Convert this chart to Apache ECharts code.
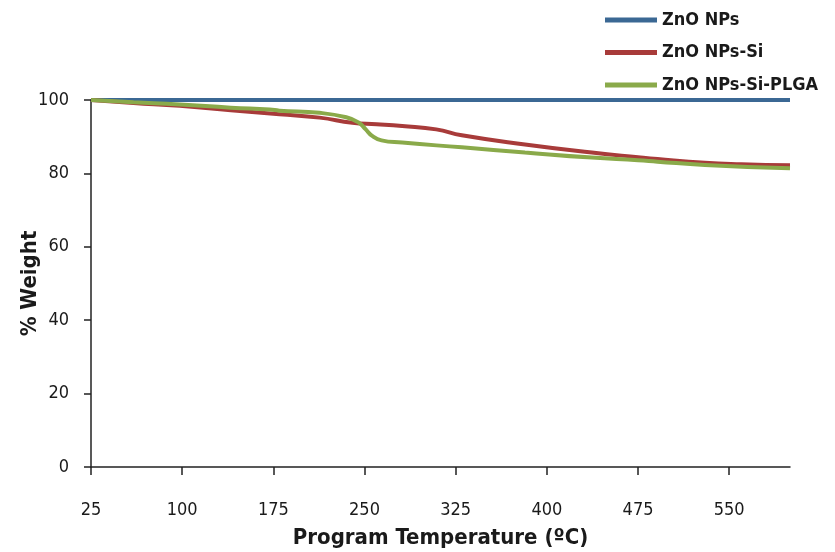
<!DOCTYPE html>
<html>
<head>
<meta charset="utf-8">
<script src="https://cdn.jsdelivr.net/npm/echarts@6/dist/echarts.min.js"></script>
<style>html,body{margin:0;padding:0;background:#fff}#c{width:835px;height:552px}</style>
</head>
<body>
<div id="c"></div>
<script>
const seriesNames = ['ZnO NPs', 'ZnO NPs-Si', 'ZnO NPs-Si-PLGA'];
const xTicks = [25, 100, 175, 250, 325, 400, 475, 550];
const yTicks = [0, 20, 40, 60, 80, 100];
const znoNPs = [[25, 100], [600, 100]];
const znoNPsSi = [
  [25, 100], [60, 99.2], [98, 98.4], [140, 97.2], [180, 96.1], [213, 95.2],
  [240, 93.8], [260, 93.4], [281, 92.9], [309, 92.0], [330, 90.4], [382, 87.9],
  [437, 85.7], [475, 84.4], [491, 83.9], [530, 82.9], [560, 82.5], [600, 82.2]
];
const znoNPsSiPLGA = [
  [25, 100], [60, 99.4], [98, 98.8], [140, 97.9], [172, 97.4], [180, 97.1],
  [213, 96.5], [235, 95.3], [245, 93.9], [251, 92.0], [256, 90.3], [264, 89.0],
  [281, 88.4], [330, 87.1], [382, 85.7], [437, 84.3], [475, 83.6], [491, 83.2],
  [530, 82.3], [600, 81.4]
];
const colors = ['#3b6894', '#a83b3a', '#8aaa4a'];

const font = '"Liberation Sans Narrow", "DejaVu Sans Condensed", sans-serif';
const chart = echarts.init(document.getElementById('c'), null, {renderer: 'canvas'});
const dataList = [znoNPs, znoNPsSi, znoNPsSiPLGA];
chart.setOption({
  animation: false,
  backgroundColor: '#fff',
  grid: {left: 91, right: 45, top: 100, bottom: 85, containLabel: false, outerBoundsMode: 'none'},
  legend: {
    orient: 'vertical', left: 605, top: 10, padding: 0,
    itemWidth: 52, itemHeight: 5, itemGap: 12.5, icon: 'rect',
    textStyle: {fontFamily: font, fontWeight: 'bold', fontSize: 18, color: '#1a1a1a', lineHeight: 20},
    data: seriesNames
  },
  xAxis: {
    type: 'value', min: 25, max: 600,
    name: 'Program Temperature (ºC)', nameLocation: 'middle', nameGap: 60, nameMoveOverlap: false,
    nameTextStyle: {fontFamily: font, fontWeight: 'bold', fontSize: 22, color: '#1a1a1a'},
    axisLine: {show: true, lineStyle: {color: '#222', width: 1.5}},
    axisTick: {show: true, length: 8, customValues: xTicks, lineStyle: {color: '#222', width: 1.5}},
    axisLabel: {customValues: xTicks, margin: 34, fontFamily: font, fontSize: 18, color: '#1a1a1a'},
    splitLine: {show: false}
  },
  yAxis: {
    type: 'value', min: 0, max: 100, interval: 20,
    name: '% Weight', nameLocation: 'middle', nameGap: 50, nameRotate: 90, nameMoveOverlap: false,
    nameTextStyle: {fontFamily: font, fontWeight: 'bold', fontSize: 22, color: '#1a1a1a'},
    axisLine: {show: true, lineStyle: {color: '#222', width: 1.5}},
    axisTick: {show: true, length: 7, lineStyle: {color: '#222', width: 1.5}},
    axisLabel: {margin: 22, fontFamily: font, fontSize: 18, color: '#1a1a1a'},
    splitLine: {show: false}
  },
  series: seriesNames.map((n, i) => ({
    name: n, type: 'line', data: dataList[i], showSymbol: false, symbol: 'none',
    smooth: 0.5,
    itemStyle: {color: colors[i]},
    lineStyle: {color: colors[i], width: 4}
  }))
});
</script>
</body>
</html>
